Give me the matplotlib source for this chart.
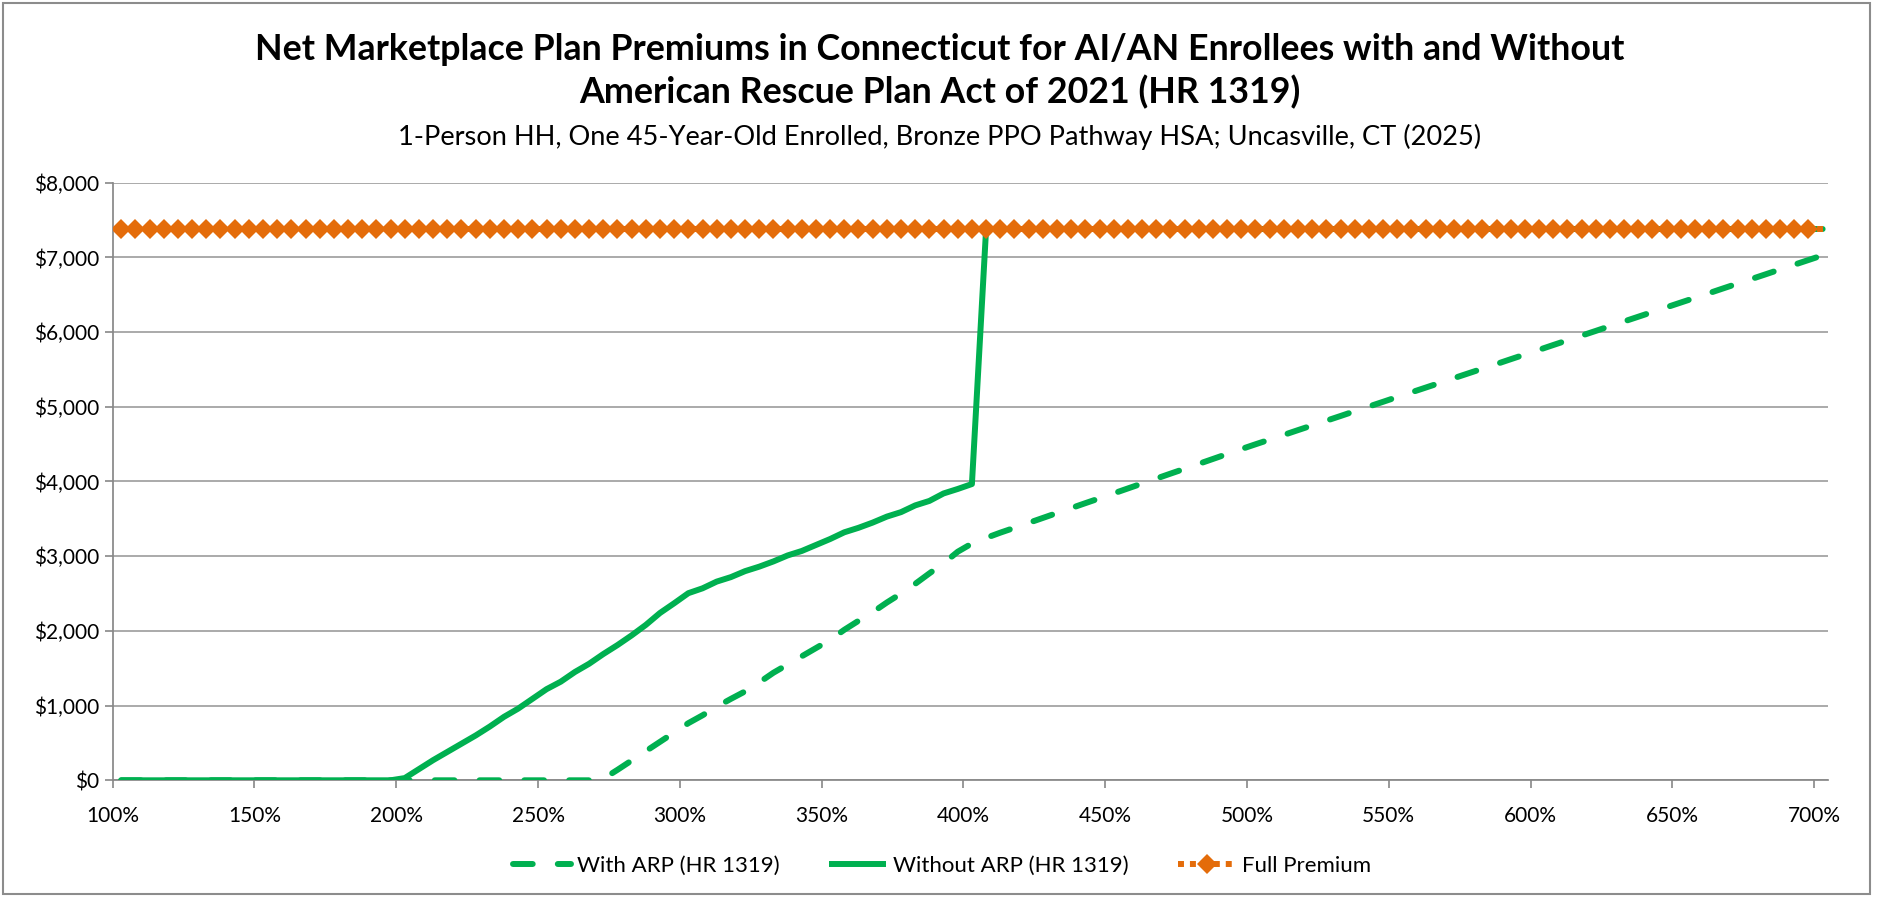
import matplotlib
matplotlib.use("Agg")
import matplotlib.pyplot as plt
from matplotlib.lines import Line2D
from matplotlib.patches import Rectangle
from matplotlib.ticker import FuncFormatter, FixedLocator
from matplotlib.legend_handler import HandlerLine2D

plt.rcParams['font.family'] = ['Lato', 'DejaVu Sans']

# Household income as a percent of the federal poverty level
fpl_pct = [
    103, 108, 113, 118, 123, 128, 133, 138, 143, 148,
    153, 158, 163, 168, 173, 178, 183, 188, 193, 198,
    203, 208, 213, 218, 223, 228, 233, 238, 243, 248,
    253, 258, 263, 268, 273, 278, 283, 288, 293, 298,
    303, 308, 313, 318, 323, 328, 333, 338, 343, 348,
    353, 358, 363, 368, 373, 378, 383, 388, 393, 398,
    403, 408, 413, 418, 423, 428, 433, 438, 443, 448,
    453, 458, 463, 468, 473, 478, 483, 488, 493, 498,
    503, 508, 513, 518, 523, 528, 533, 538, 543, 548,
    553, 558, 563, 568, 573, 578, 583, 588, 593, 598,
    603, 608, 613, 618, 623, 628, 633, 638, 643, 648,
    653, 658, 663, 668, 673, 678, 683, 688, 693, 698,
    703,
]

# Annual net premium ($) with the enhanced ARP subsidies
with_arp = [
    0, 0, 0, 0, 0, 0, 0, 0, 0, 0,
    0, 0, 0, 0, 0, 0, 0, 0, 0, 0,
    0, 0, 0, 0, 0, 0, 0, 0, 0, 0,
    0, 0, 0, 0, 20, 140, 265, 390, 515, 640,
    765, 870, 985, 1090, 1190, 1310, 1440, 1550, 1660, 1770,
    1880, 2015, 2135, 2250, 2380, 2500, 2630, 2770, 2905, 3060,
    3170, 3245, 3315, 3380, 3446, 3512, 3578, 3644, 3710, 3775,
    3841, 3907, 3973, 4039, 4105, 4170, 4236, 4302, 4368, 4434,
    4498, 4561, 4624, 4688, 4751, 4814, 4877, 4941, 5004, 5067,
    5131, 5194, 5257, 5320, 5384, 5447, 5510, 5573, 5637, 5700,
    5763, 5827, 5890, 5953, 6016, 6080, 6143, 6206, 6269, 6333,
    6396, 6459, 6522, 6586, 6649, 6712, 6775, 6839, 6902, 6965,
    7028,
]

# Annual net premium ($) under the original ACA subsidy rules
without_arp = [
    0, 0, 0, 0, 0, 0, 0, 0, 0, 0,
    0, 0, 0, 0, 0, 0, 0, 0, 0, 0,
    30, 150, 270, 380, 490, 600, 720, 850, 960, 1090,
    1220, 1320, 1450, 1560, 1690, 1810, 1940, 2080, 2240, 2370,
    2505, 2570, 2660, 2720, 2800, 2860, 2930, 3010, 3070, 3150,
    3230, 3320, 3380, 3450, 3530, 3590, 3680, 3740, 3840, 3900,
    3966, 7380, 7380, 7380, 7380, 7380, 7380, 7380, 7380, 7380,
    7380, 7380, 7380, 7380, 7380, 7380, 7380, 7380, 7380, 7380,
    7380, 7380, 7380, 7380, 7380, 7380, 7380, 7380, 7380, 7380,
    7380, 7380, 7380, 7380, 7380, 7380, 7380, 7380, 7380, 7380,
    7380, 7380, 7380, 7380, 7380, 7380, 7380, 7380, 7380, 7380,
    7380, 7380, 7380, 7380, 7380, 7380, 7380, 7380, 7380, 7380,
    7380,
]

# Unsubsidized annual premium ($)
full_premium = [
    7380, 7380, 7380, 7380, 7380, 7380, 7380, 7380, 7380, 7380,
    7380, 7380, 7380, 7380, 7380, 7380, 7380, 7380, 7380, 7380,
    7380, 7380, 7380, 7380, 7380, 7380, 7380, 7380, 7380, 7380,
    7380, 7380, 7380, 7380, 7380, 7380, 7380, 7380, 7380, 7380,
    7380, 7380, 7380, 7380, 7380, 7380, 7380, 7380, 7380, 7380,
    7380, 7380, 7380, 7380, 7380, 7380, 7380, 7380, 7380, 7380,
    7380, 7380, 7380, 7380, 7380, 7380, 7380, 7380, 7380, 7380,
    7380, 7380, 7380, 7380, 7380, 7380, 7380, 7380, 7380, 7380,
    7380, 7380, 7380, 7380, 7380, 7380, 7380, 7380, 7380, 7380,
    7380, 7380, 7380, 7380, 7380, 7380, 7380, 7380, 7380, 7380,
    7380, 7380, 7380, 7380, 7380, 7380, 7380, 7380, 7380, 7380,
    7380, 7380, 7380, 7380, 7380, 7380, 7380, 7380, 7380, 7380,
    7380,
]

x_ticks = [100, 150, 200, 250, 300, 350, 400, 450, 500, 550, 600, 650, 700]
y_ticks = [0, 1000, 2000, 3000, 4000, 5000, 6000, 7000, 8000]

title_line1 = "Net Marketplace Plan Premiums in Connecticut for AI/AN Enrollees with and Without"
title_line2 = "American Rescue Plan Act of 2021 (HR 1319)"
subtitle = "1-Person HH, One 45-Year-Old Enrolled, Bronze PPO Pathway HSA; Uncasville, CT (2025)"
series_labels = ["With ARP (HR 1319)", "Without ARP (HR 1319)", "Full Premium"]

GREEN = "#00B050"
ORANGE = "#E46C0A"
GRID = "#A0A0A0"
AXIS = "#888888"
BORDER = "#8C8C8C"

W, H = 1879, 897
fig = plt.figure(figsize=(W / 100, H / 100), dpi=100)

# plot area in pixel units
left_px, right_px, top_px, bottom_px = 112.7, 1828.3, 182.7, 780.3
ax = fig.add_axes([left_px / W, 1 - bottom_px / H,
                   (right_px - left_px) / W, (bottom_px - top_px) / H])

LW = 4.3
ax.plot(fpl_pct, with_arp, color=GREEN, lw=LW, dashes=(3.3, 4.2),
        dash_capstyle='round', solid_capstyle='round', zorder=3)
ax.plot(fpl_pct, without_arp, color=GREEN, lw=LW, solid_capstyle='round',
        solid_joinstyle='round', zorder=4)
ax.plot(fpl_pct, full_premium, color=ORANGE, lw=LW, dashes=(1, 1),
        dash_capstyle='butt', zorder=5)
ax.plot(fpl_pct[:-1], full_premium[:-1], linestyle='none', marker='D',
        markersize=9.8, markerfacecolor=ORANGE, markeredgewidth=0, zorder=6)

ax.set_xlim(100, 705)
ax.set_ylim(0, 8000)
ax.xaxis.set_major_locator(FixedLocator(x_ticks))
ax.yaxis.set_major_locator(FixedLocator(y_ticks))
ax.xaxis.set_major_formatter(FuncFormatter(lambda v, _: f"{int(v)}%"))
ax.yaxis.set_major_formatter(FuncFormatter(lambda v, _: f"${int(v):,}"))

ax.grid(axis='y', color=GRID, lw=1.25, zorder=0)
ax.set_axisbelow(True)
for side in ('top', 'right'):
    ax.spines[side].set_visible(False)
for side in ('left', 'bottom'):
    ax.spines[side].set_color(AXIS)
    ax.spines[side].set_linewidth(1.25)
ax.tick_params(axis='both', which='major', direction='out', length=5.5,
               width=1.2, color=AXIS, labelsize=15, labelcolor='black')
ax.tick_params(axis='x', pad=13)
ax.tick_params(axis='y', pad=4)


class LeftMarkerHandler(HandlerLine2D):
    def get_xdata(self, legend, xdescent, ydescent, width, height, fontsize):
        xdata = [-xdescent, -xdescent + width]
        return xdata, [-xdescent + 0.12 * width]


h_with = Line2D([], [], color=GREEN, lw=LW, dashes=(3.3, 4.2),
                dash_capstyle='round')
h_without = Line2D([], [], color=GREEN, lw=LW, solid_capstyle='butt')
h_full = Line2D([], [], color=ORANGE, lw=LW, dashes=(1, 1), marker='D',
                markersize=9.8, markeredgewidth=0, markerfacecolor=ORANGE)
fig.legend([h_with, h_without, h_full], series_labels, loc='center',
           bbox_to_anchor=(942 / W, 1 - 866 / H), ncol=3, frameon=False,
           fontsize=16, handlelength=2.6, handletextpad=0.3,
           columnspacing=2.2, numpoints=1,
           handler_map={h_full: LeftMarkerHandler()})

t1 = fig.text(0.5, 1 - 50 / H, title_line1, ha='center', va='center',
              fontsize=24, fontweight='bold')
t2 = fig.text(0.5, 1 - 92 / H, title_line2, ha='center', va='center',
              fontsize=24, fontweight='bold')
st = fig.text(0.5, 1 - 137 / H, subtitle, ha='center', va='center',
              fontsize=17)

# scale the heading lines to their set widths
fig.canvas.draw()
r = fig.canvas.get_renderer()
s1 = t1.get_fontsize() * 1371 / t1.get_window_extent(r).width
t1.set_fontsize(s1)
t2.set_fontsize(s1)
st.set_fontsize(st.get_fontsize() * 1082 / st.get_window_extent(r).width)

fig.patches.append(Rectangle((3 / W, 3 / H), (1870 - 3) / W, (894 - 3) / H,
                             transform=fig.transFigure, fill=False,
                             edgecolor=BORDER, lw=1.5))

fig.savefig("out.png", dpi=100)
